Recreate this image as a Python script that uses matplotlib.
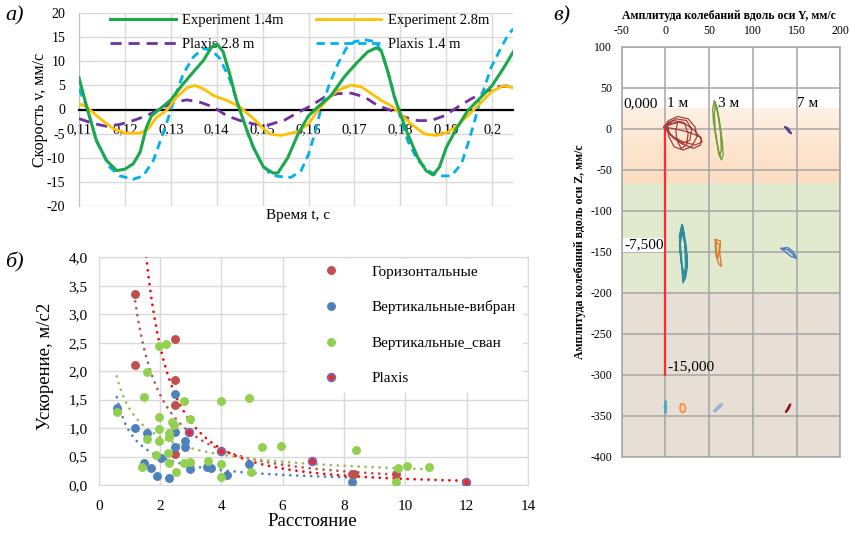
import numpy as np
import matplotlib
matplotlib.use("Agg")
import matplotlib.pyplot as plt
from matplotlib.colors import LinearSegmentedColormap
from matplotlib.ticker import FixedLocator, FixedFormatter

plt.rcParams['font.family'] = ['Liberation Serif', 'DejaVu Serif']

# ---------------- panel а: velocity records ----------------
t_exp14 = [0.1100, 0.1117, 0.1138, 0.1160, 0.1182, 0.1200, 0.1218, 0.1233, 0.1247, 0.1258,
           0.1276, 0.1300, 0.1324, 0.1349, 0.1371, 0.1389, 0.1401, 0.1414, 0.1429, 0.1443,
           0.1462, 0.1480, 0.1502, 0.1523, 0.1533, 0.1555, 0.1577, 0.1600, 0.1620, 0.1649,
           0.1678, 0.1707, 0.1729, 0.1747, 0.1758, 0.1773, 0.1787, 0.1800, 0.1816, 0.1838,
           0.1856, 0.1871, 0.1885, 0.1900, 0.1922, 0.1947, 0.1976, 0.2000, 0.2026, 0.2046]
v_exp14 = [6.6, 0.5, -6.5, -10.6, -12.7, -12.4, -11.3, -8.9, -3.7, -1.3,
           0.1, 2.0, 5.0, 7.8, 10.2, 13.0, 13.6, 12.0, 7.1, 1.9,
           -3.3, -7.9, -12.0, -13.2, -13.2, -10.0, -5.1, -1.3, 0.5, 2.9,
           6.8, 9.9, 12.0, 12.8, 12.3, 7.8, 2.6, -0.9, -5.1, -10.0,
           -12.7, -13.6, -12.0, -7.9, -4.0, -0.2, 2.6, 5.0, 8.8, 12.0]

t_exp28 = [0.1100, 0.1117, 0.1146, 0.1175, 0.1200, 0.1233, 0.1251, 0.1269, 0.1291, 0.1313,
           0.1335, 0.1353, 0.1371, 0.1393, 0.1422, 0.1451, 0.1480, 0.1502, 0.1516, 0.1540,
           0.1577, 0.1600, 0.1620, 0.1642, 0.1664, 0.1693, 0.1715, 0.1737, 0.1758, 0.1780,
           0.1800, 0.1823, 0.1853, 0.1878, 0.1904, 0.1925, 0.1951, 0.1976, 0.2000, 0.2026,
           0.2046]
v_exp28 = [1.2, 0.5, -1.9, -4.0, -4.9, -4.9, -4.0, -1.6, -0.2, 2.6,
           4.5, 5.0, 4.3, 2.9, 1.9, 0.5, -1.9, -4.0, -5.1, -5.4,
           -4.6, -3.0, -0.2, 2.2, 4.0, 5.1, 4.7, 3.3, 1.9, 0.8,
           -0.9, -3.0, -5.1, -5.4, -4.7, -3.3, -0.9, 1.5, 3.8, 5.0,
           4.5]

t_pl28 = [0.1100, 0.1131, 0.1160, 0.1189, 0.1218, 0.1247, 0.1276, 0.1306, 0.1335, 0.1364,
          0.1393, 0.1422, 0.1451, 0.1480, 0.1509, 0.1548, 0.1577, 0.1606, 0.1635, 0.1664,
          0.1693, 0.1722, 0.1751, 0.1780, 0.1809, 0.1838, 0.1867, 0.1896, 0.1925, 0.1954,
          0.1983, 0.2012, 0.2033, 0.2046]
v_pl28 = [-1.9, -2.9, -3.5, -3.1, -2.3, -1.3, 0.1, 1.5, 2.0, 1.5,
          0.5, -1.3, -2.3, -3.0, -3.3, -2.2, -0.6, 0.8, 2.6, 3.3,
          3.4, 2.6, 0.8, -0.2, -1.6, -2.3, -2.3, -1.3, 0.5, 2.2,
          3.6, 4.7, 4.9, 4.3]

t_pl14 = [0.1100, 0.1117, 0.1138, 0.1167, 0.1189, 0.1218, 0.1240, 0.1262, 0.1280, 0.1295,
          0.1309, 0.1327, 0.1349, 0.1371, 0.1389, 0.1407, 0.1429, 0.1451, 0.1473, 0.1494,
          0.1516, 0.1533, 0.1562, 0.1584, 0.1600, 0.1613, 0.1628, 0.1646, 0.1664, 0.1682,
          0.1700, 0.1722, 0.1747, 0.1762, 0.1780, 0.1798, 0.1816, 0.1838, 0.1860, 0.1882,
          0.1911, 0.1933, 0.1947, 0.1962, 0.1976, 0.1998, 0.2020, 0.2034, 0.2046]
v_pl14 = [4.3, 0.5, -6.5, -12.0, -13.8, -14.5, -13.8, -10.6, -5.8, -1.6,
          2.6, 7.4, 10.9, 12.7, 12.3, 10.6, 6.1, -0.2, -6.5, -10.6,
          -13.4, -13.9, -14.1, -12.7, -9.3, -5.1, 0.5, 5.4, 9.5, 12.7,
          14.1, 14.5, 14.1, 11.3, 5.4, -0.9, -6.5, -10.6, -12.7, -13.8,
          -13.8, -11.3, -7.2, -2.3, 2.6, 8.8, 13.0, 15.4, 16.8]

a_xticks = [0.11, 0.12, 0.13, 0.14, 0.15, 0.16, 0.17, 0.18, 0.19, 0.20]
a_xticklabels = ['0,11', '0,12', '0,13', '0,14', '0,15', '0,16', '0,17', '0,18', '0,19', '0,2']
a_yticks = [-20, -15, -10, -5, 0, 5, 10, 15, 20]
a_yticklabels = ['-20', '-15', '-10', '-5', '0', '5', '10', '15', '20']

# ---------------- panel б: acceleration vs distance ----------------
hor_x = [1.19, 1.19, 2.49, 2.49, 2.49, 2.49, 8.27, 8.33, 9.68]
hor_y = [3.35, 2.11, 2.57, 1.85, 1.41, 0.54, 0.20, 0.20, 0.19]

vib_x = [0.59, 1.19, 1.57, 1.47, 1.70, 1.90, 2.02, 2.30, 2.49, 2.49, 2.49, 2.80, 2.80,
         2.99, 3.52, 3.65, 4.18, 4.89, 8.27]
vib_y = [1.36, 1.00, 0.91, 0.38, 0.30, 0.16, 0.47, 0.12, 1.60, 0.93, 0.67, 0.78, 0.66,
         0.28, 0.31, 0.29, 0.18, 0.37, 0.05]

svn_x = [0.59, 1.41, 1.49, 1.59, 1.59, 1.88, 1.98, 2.19, 1.98, 1.98, 1.97, 2.30, 2.30,
         2.39, 2.45, 2.27, 2.29, 2.52, 2.78, 2.78, 2.99, 2.99, 3.57, 3.98, 3.98, 3.98,
         4.89, 4.98, 5.31, 5.96, 8.38, 9.68, 9.76, 10.06, 10.77]
svn_y = [1.29, 0.32, 1.54, 1.98, 0.81, 0.53, 2.45, 2.48, 1.20, 0.98, 0.78, 0.91, 0.85,
         1.10, 1.05, 0.56, 0.38, 0.22, 1.48, 0.39, 1.16, 0.40, 0.43, 1.48, 0.37, 0.14,
         1.52, 0.22, 0.67, 0.69, 0.62, 0.05, 0.30, 0.34, 0.32]

plx_x = [2.95, 4.00, 6.97, 11.97]
plx_y = [0.93, 0.59, 0.43, 0.05]
plx_backcast = 2.0   # trendline forecast backward, distance units

b_xticks = [0, 2, 4, 6, 8, 10, 12, 14]
b_yticks = [0.0, 0.5, 1.0, 1.5, 2.0, 2.5, 3.0, 3.5, 4.0]
b_yticklabels = ['0,0', '0,5', '1,0', '1,5', '2,0', '2,5', '3,0', '3,5', '4,0']

# ---------------- panel в: particle orbits ----------------
orb_1m_top_y = [0, 8, 20, 33, 41, 40, 32, 18, 6, 0,
                4, 14, 26, 34, 36, 30, 20, 10, 4, 2, 4,
                -2, 10, 26, 40, 42, 34, 20, 6, -2,
                14, 22, 26, 24, 18, 13, 12, 14,
                2, 12, 24, 30, 28, 20, 10, 4, 2]
orb_1m_top_z = [3, 10, 8, -2, -12, -20, -24, -18, -8, 3,
                10, 15, 12, 2, -10, -22, -26, -22, -10, 2, 10,
                2, 0, -4, -10, -16, -20, -16, -8, 2,
                8, 6, -6, -20, -24, -14, -2, 8,
                5, 12, 10, 0, -14, -18, -12, -4, 5]

orb_3m_top_y = [56, 59, 62, 65, 66, 64, 61, 58, 55, 54, 56,
                57, 60, 63, 64, 62, 60, 57, 56, 57]
orb_3m_top_z = [34, 26, 8, -15, -32, -38, -30, -12, 8, 24, 34,
                30, 18, -5, -25, -34, -22, -2, 16, 30]

orb_7m_top_y = [137, 140, 142, 144, 141, 139, 137]
orb_7m_top_z = [2, 1, -2, -6, -4, -1, 2]

orb_1m_mid_y = [19, 21, 24, 25, 23, 20, 19, 17, 16, 19,
                18, 22, 25, 24, 21, 18, 16, 18,
                20, 17, 19, 21, 23, 22, 20]
orb_1m_mid_z = [-117, -125, -145, -165, -182, -188, -172, -150, -130, -117,
                -124, -138, -158, -176, -180, -162, -142, -124,
                -120, -140, -165, -185, -165, -140, -120]

orb_3m_mid_y = [57, 63, 62, 64, 61, 58, 57, 57, 58, 62, 60, 58, 58]
orb_3m_mid_z = [-135, -137, -150, -168, -165, -155, -145, -135, -138, -142, -158, -150, -138]

orb_7m_mid_y = [132, 140, 146, 150, 144, 138, 132, 141, 148]
orb_7m_mid_z = [-146, -145, -150, -158, -156, -151, -146, -148, -156]

orb_0m_bot_y = [0, 0.8, 0, -0.8, 0]
orb_0m_bot_z = [-333, -340, -347, -340, -333]
orb_1m_bot_y = [18, 21, 23, 22, 19, 17, 17, 18]
orb_1m_bot_z = [-336, -336, -340, -345, -346, -343, -338, -336]
orb_3m_bot_y = [56, 59, 63, 65, 63, 59, 57, 56]
orb_3m_bot_z = [-344, -340, -336, -336, -339, -343, -345, -344]
orb_7m_bot_y = [138, 140, 142, 143, 142, 140, 138]
orb_7m_bot_z = [-345, -341, -337, -336, -339, -343, -345]

pile_y = [0, 0, 0]
pile_z = [0, -150, -300]
pile_labels = ['0,000', '-7,500', '-15,000']

dist_labels = ['1 м', '3 м', '7 м']
dist_label_y = [1.6, 60.5, 150.3]
dist_label_z = 31

layer_tops = [25, -66, -200]
layer_bottoms = [-66, -200, -400]

c_xticks = [-50, 0, 50, 100, 150, 200]
c_yticks = [100, 50, 0, -50, -100, -150, -200, -250, -300, -350, -400]

# ---------------- figure ----------------
W, H = 851, 534
fig = plt.figure(figsize=(W / 100, H / 100), dpi=100)


def px_axes(left, top, right, bottom):
    return fig.add_axes([left / W, 1 - bottom / H, (right - left) / W, (bottom - top) / H])


GRID = '#d9d9d9'

# ---- а ----
ax_a = px_axes(79, 13.3, 513.3, 205.7)
l1, = ax_a.plot(t_exp14, v_exp14, color='#1aa84a', lw=2.2, zorder=6, label='Experiment 1.4m')
l2, = ax_a.plot(t_exp28, v_exp28, color='#ffc000', lw=2.0, zorder=5, label='Experiment 2.8m')
l3, = ax_a.plot(t_pl28, v_pl28, color='#7030a0', lw=2.0, ls=(0, (4, 2.5)), zorder=4,
                label='Plaxis 2.8 m')
l4, = ax_a.plot(t_pl14, v_pl14, color='#00b0f0', lw=2.0, ls=(0, (3, 2)), zorder=4,
                label='Plaxis 1.4 m')
ax_a.set_xlim(0.11, 0.2046)
ax_a.set_ylim(-20, 20)
ax_a.xaxis.set_major_locator(FixedLocator(a_xticks))
ax_a.xaxis.set_major_formatter(FixedFormatter(a_xticklabels))
ax_a.yaxis.set_major_locator(FixedLocator(a_yticks))
ax_a.yaxis.set_major_formatter(FixedFormatter(a_yticklabels))
ax_a.grid(True, color=GRID, lw=1.0)
ax_a.set_axisbelow(True)
ax_a.spines['bottom'].set_position(('data', 0))
ax_a.spines['bottom'].set_color('black')
ax_a.spines['bottom'].set_linewidth(1.6)
ax_a.spines['bottom'].set_zorder(3)
ax_a.spines['left'].set_color('#bfbfbf')
ax_a.spines['top'].set_visible(False)
ax_a.spines['right'].set_visible(False)
ax_a.tick_params(axis='x', length=0, pad=10, labelsize=10.5)
ax_a.tick_params(axis='y', length=0, pad=10, labelsize=10)
ax_a.legend(handles=[l1, l3, l2, l4], ncol=2, loc='upper left',
            bbox_to_anchor=(110 / W, 1 - 14 / H), bbox_transform=fig.transFigure,
            frameon=False, fontsize=10.5, handlelength=4.5, handletextpad=0.45,
            columnspacing=2.2, labelspacing=0.75, borderpad=0, borderaxespad=0)
fig.text(40 / W, 1 - 110 / H, 'Скорость v, мм/с', rotation=90, ha='center', va='center',
         fontsize=11.5)
fig.text(298 / W, 1 - 215 / H, 'Время t, с', ha='center', va='center', fontsize=11)
fig.text(5 / W, 1 - 16 / H, 'а)', ha='left', va='center', fontsize=16, style='italic')

# ---- б ----
ax_b = px_axes(98.7, 257.3, 528, 485)
ax_b.set_xlim(0, 14)
ax_b.set_ylim(0, 4)


def power_fit(x, y):
    b, ln_a = np.polyfit(np.log(x), np.log(y), 1)
    return np.exp(ln_a), b


trend_style = dict(lw=2.0, ls=(0, (0.01, 2.5)), dash_capstyle='round', zorder=3)
for xs, ys, col, back in [(hor_x, hor_y, '#c0504d', 0.0), (vib_x, vib_y, '#4f81bd', 0.0),
                          (svn_x, svn_y, '#9bbb59', 0.0), (plx_x, plx_y, '#ff0000', plx_backcast)]:
    a, b = power_fit(xs, ys)
    xx = np.linspace(min(xs) - back, max(xs), 300)
    ax_b.plot(xx, a * xx ** b, color=col, **trend_style)

m1, = ax_b.plot(hor_x, hor_y, 'o', ms=5.4, color='#c0504d', zorder=4, label='Горизонтальные')
m2, = ax_b.plot(vib_x, vib_y, 'o', ms=5.4, color='#4f81bd', zorder=4, label='Вертикальные-вибран')
m3, = ax_b.plot(svn_x, svn_y, 'o', ms=5.4, color='#92d050', zorder=4, label='Вертикальные_сван')
m4, = ax_b.plot(plx_x, plx_y, 'o', ms=5.2, mfc='#ff2020', mec='#8064a2', mew=1.6, zorder=5,
                label='Plaxis')
ax_b.xaxis.set_major_locator(FixedLocator(b_xticks))
ax_b.xaxis.set_major_formatter(FixedFormatter([str(v) for v in b_xticks]))
ax_b.yaxis.set_major_locator(FixedLocator(b_yticks))
ax_b.yaxis.set_major_formatter(FixedFormatter(b_yticklabels))
ax_b.grid(True, color=GRID, lw=1.0)
ax_b.set_axisbelow(True)
for s in ax_b.spines.values():
    s.set_color(GRID)
ax_b.tick_params(axis='both', length=0, labelsize=11)
ax_b.tick_params(axis='x', pad=11)
ax_b.tick_params(axis='y', pad=8)
ax_b.legend(handles=[m1, m2, m3, m4], loc='upper left',
            bbox_to_anchor=(287 / W, 1 - 259 / H), bbox_transform=fig.transFigure,
            frameon=True, facecolor='white', edgecolor='white', framealpha=1, fancybox=False,
            fontsize=11, numpoints=1, handlelength=4.9, handletextpad=0.26,
            labelspacing=1.42, borderpad=0.4, borderaxespad=0)
fig.text(45 / W, 1 - 366 / H, 'Ускорение, м/с2', rotation=90, ha='center', va='center',
         fontsize=13.5)
fig.text(312 / W, 1 - 522 / H, 'Расстояние', ha='center', va='center', fontsize=13.5)
fig.text(5 / W, 1 - 262 / H, 'б)', ha='left', va='center', fontsize=16, style='italic')

# ---- в ----
ax_c = px_axes(621.7, 46.7, 840.3, 456.7)
ax_c.set_xlim(-50, 200)
ax_c.set_ylim(-400, 100)
sand = LinearSegmentedColormap.from_list('sand', ['#fbdcc1', '#fde6d0', '#fef1e4'])
ax_c.imshow(np.linspace(0, 1, 64).reshape(-1, 1), cmap=sand, aspect='auto', origin='lower',
            extent=(-50, 200, layer_bottoms[0], layer_tops[0]), zorder=0.1)
ax_c.axhspan(layer_bottoms[1], layer_tops[1], color='#e1eacf', lw=0, zorder=0.1)
ax_c.axhspan(layer_bottoms[2], layer_tops[2], color='#e7dfd5', lw=0, zorder=0.1)
ax_c.set_xlim(-50, 200)
ax_c.set_ylim(-400, 100)

ax_c.plot(pile_y, pile_z, color='#ff2a2a', lw=1.6, zorder=2)
label_offsets = [(-5.5, 18.3), (-1.4, 4.8), (1.7, 5.8)]
label_ha = ['right', 'right', 'left']
for yv, zv, txt, off, ha in zip(pile_y, pile_z, pile_labels, label_offsets, label_ha):
    box = dict(facecolor='white', edgecolor='none', pad=0.5) if txt == '-7,500' else None
    ax_c.annotate(txt, (yv, zv), xytext=off, textcoords='offset points', ha=ha, va='center',
                  fontsize=11, bbox=box, zorder=4)
for txt, yv in zip(dist_labels, dist_label_y):
    ax_c.text(yv, dist_label_z, txt, ha='left', va='center', fontsize=11, zorder=4)

orbits = [
    (orb_1m_top_y, orb_1m_top_z, '#a8403c', 0.9),
    (orb_3m_top_y, orb_3m_top_z, '#76a03c', 1.0),
    (orb_7m_top_y, orb_7m_top_z, '#5c4492', 1.2),
    (orb_1m_mid_y, orb_1m_mid_z, '#2e8c9e', 1.0),
    (orb_3m_mid_y, orb_3m_mid_z, '#dc7c2e', 1.0),
    (orb_7m_mid_y, orb_7m_mid_z, '#4a7fc0', 1.0),
    (orb_0m_bot_y, orb_0m_bot_z, '#4bacc6', 1.6),
    (orb_1m_bot_y, orb_1m_bot_z, '#f79646', 1.4),
    (orb_3m_bot_y, orb_3m_bot_z, '#95b3d7', 1.4),
    (orb_7m_bot_y, orb_7m_bot_z, '#8c1c1c', 1.4),
]
for oy, oz, col, lw in orbits:
    ax_c.plot(oy, oz, color=col, lw=lw, zorder=3, solid_joinstyle='round')

ax_c.xaxis.tick_top()
ax_c.xaxis.set_major_locator(FixedLocator(c_xticks))
ax_c.xaxis.set_major_formatter(FixedFormatter([str(v) for v in c_xticks]))
ax_c.yaxis.set_major_locator(FixedLocator(c_yticks))
ax_c.yaxis.set_major_formatter(FixedFormatter([str(v) for v in c_yticks]))
ax_c.grid(True, color='#a6a6a6', lw=1.1, zorder=0.5)
ax_c.set_axisbelow(True)
for s in ax_c.spines.values():
    s.set_color('#a6a6a6')
    s.set_linewidth(1.1)
ax_c.tick_params(axis='both', length=0, labelsize=8.5)
ax_c.tick_params(axis='x', pad=7)
ax_c.tick_params(axis='y', pad=7)
fig.text(729 / W, 1 - 16 / H, 'Амплитуда колебаний вдоль оси Y, мм/с', ha='center',
         va='center', fontsize=8.5, fontweight='bold')
fig.text(580 / W, 1 - 251.7 / H, 'Амплитуда колебаний вдоль оси Z, мм/с', rotation=90,
         ha='center', va='center', fontsize=8.5, fontweight='bold')
fig.text(553 / W, 1 - 16 / H, 'в)', ha='left', va='center', fontsize=16, style='italic')

fig.savefig('out.png', dpi=100)
